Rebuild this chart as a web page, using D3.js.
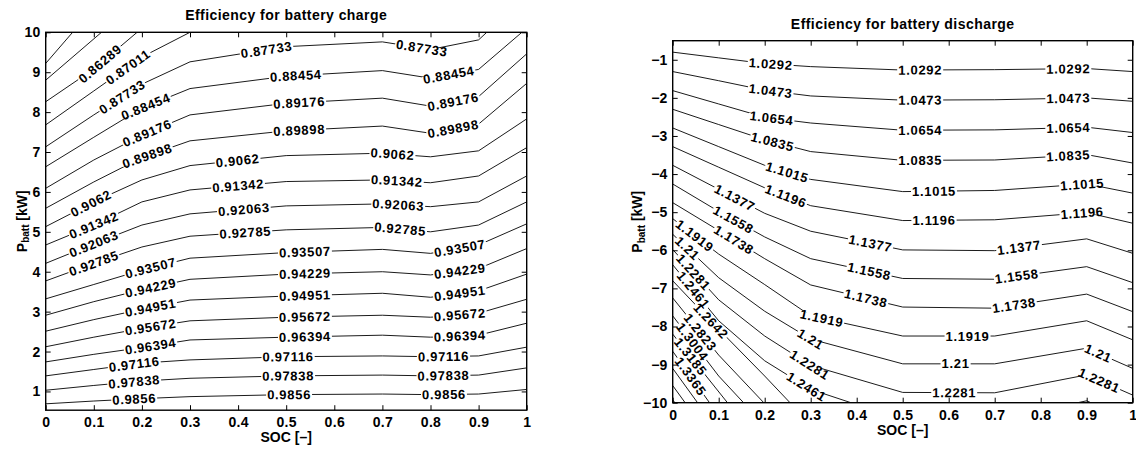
<!DOCTYPE html>
<html><head><meta charset="utf-8">
<script src="https://cdn.jsdelivr.net/npm/d3@7"></script>
<style>
body{margin:0;background:#fff;}
svg{display:block;font-family:"Liberation Sans",Arial,Helvetica,sans-serif;font-weight:bold;}
</style></head><body>
<svg id="chart" width="1136" height="452"></svg>
<script>
// ---------- DATA ----------
const socTicks = [0,0.1,0.2,0.3,0.4,0.5,0.6,0.7,0.8,0.9,1];
const socTickLabels = ["0","0.1","0.2","0.3","0.4","0.5","0.6","0.7","0.8","0.9","1"];
const chargeYTicks = [1,2,3,4,5,6,7,8,9,10];
const chargeYTickLabels = ["1","2","3","4","5","6","7","8","9","10"];
const dischargeYTicks = [-10,-9,-8,-7,-6,-5,-4,-3,-2,-1];
const dischargeYTickLabels = ["\u221210","\u22129","\u22128","\u22127","\u22126","\u22125","\u22124","\u22123","\u22122","\u22121"];

// Charge contours: [SOC, P_batt]
const chargeLabels = ["0.84845","0.85567","0.86289","0.87011","0.87733","0.88454","0.89176","0.89898","0.9062","0.91342","0.92063","0.92785","0.93507","0.94229","0.94951","0.95672","0.96394","0.97116","0.97838","0.9856"];
const chargeLines = [
 [[0,9.22],[0.056,10]],
 [[0,8.80],[0.116,10]],
 [[0,8.26],[0.1,9.08],[0.19,10]],
 [[0,7.68],[0.1,8.53],[0.2,9.38],[0.3,10]],
 [[0,7.13],[0.1,7.93],[0.2,8.70],[0.3,9.26],[0.5,9.64],[0.7,9.76],[0.8,9.57],[0.9,9.81],[0.917,10]],
 [[0,6.63],[0.1,7.37],[0.2,8.10],[0.3,8.59],[0.5,8.90],[0.7,9.04],[0.8,8.85],[0.9,9.07],[0.99,10]],
 [[0,6.09],[0.1,6.80],[0.2,7.42],[0.3,7.93],[0.5,8.22],[0.7,8.35],[0.8,8.15],[0.9,8.39],[1,9.46]],
 [[0,5.59],[0.1,6.25],[0.2,6.86],[0.3,7.28],[0.5,7.53],[0.7,7.65],[0.8,7.47],[0.9,7.70],[1,8.72]],
 [[0,5.13],[0.1,5.75],[0.2,6.30],[0.3,6.66],[0.5,6.91],[0.7,6.97],[0.8,6.88],[0.9,7.03],[1,7.83]],
 [[0,4.67],[0.1,5.17],[0.2,5.75],[0.3,6.05],[0.5,6.26],[0.7,6.30],[0.8,6.23],[0.9,6.40],[1,7.11]],
 [[0,4.21],[0.1,4.70],[0.2,5.17],[0.3,5.45],[0.5,5.65],[0.7,5.70],[0.8,5.63],[0.9,5.75],[1,6.40]],
 [[0,3.77],[0.1,4.21],[0.2,4.62],[0.3,4.89],[0.5,5.05],[0.7,5.11],[0.8,5.00],[0.9,5.17],[1,5.75]],
 [[0,3.32],[0.1,3.68],[0.2,4.04],[0.3,4.34],[0.5,4.48],[0.7,4.56],[0.8,4.46],[0.9,4.67],[1,5.20]],
 [[0,2.91],[0.1,3.25],[0.2,3.55],[0.3,3.81],[0.5,3.94],[0.7,4.00],[0.8,3.92],[0.9,4.08],[1,4.58]],
 [[0,2.51],[0.1,2.80],[0.2,3.06],[0.3,3.29],[0.5,3.39],[0.7,3.46],[0.8,3.36],[0.9,3.52],[1,3.94]],
 [[0,2.12],[0.1,2.36],[0.2,2.58],[0.3,2.77],[0.5,2.86],[0.7,2.91],[0.8,2.86],[0.9,2.96],[1,3.31]],
 [[0,1.74],[0.1,1.93],[0.2,2.10],[0.3,2.29],[0.5,2.36],[0.7,2.41],[0.8,2.36],[0.9,2.41],[1,2.71]],
 [[0,1.39],[0.1,1.55],[0.2,1.71],[0.3,1.79],[0.5,1.87],[0.7,1.89],[0.8,1.87],[0.9,1.89],[1,2.11]],
 [[0,1.03],[0.1,1.15],[0.2,1.26],[0.3,1.33],[0.5,1.39],[0.7,1.41],[0.8,1.39],[0.9,1.41],[1,1.59]],
 [[0,0.69],[0.1,0.76],[0.2,0.82],[0.3,0.87],[0.5,0.92],[0.7,0.935],[0.8,0.92],[0.9,0.935],[1,1.05]]
];
const chargeLabelSoc = [
 [],[],[0.113],[0.171],[0.159,0.459,0.782],[0.208,0.52,0.838],[0.211,0.527,0.847],[0.211,0.527,0.847],
 [0.094,0.399,0.721],[0.1,0.40,0.73],[0.1,0.412,0.733],[0.1,0.415,0.737],
 [0.218,0.539,0.861],[0.218,0.539,0.861],[0.218,0.539,0.861],[0.218,0.539,0.861],[0.218,0.539,0.861],
 [0.184,0.504,0.827],[0.184,0.504,0.827],[0.184,0.506,0.828]
];

// Discharge contours: [SOC, P_batt]
const dischargeLabels = ["1.0292","1.0473","1.0654","1.0835","1.1015","1.1196","1.1377","1.1558","1.1738","1.1919","1.21","1.2281","1.2461","1.2642","1.2823","1.3004","1.3185","1.3365","1.3546","1.3727","1.3908"];
const dischargeLines = [
 [[0,-0.80],[0.1,-0.95],[0.2,-1.10],[0.3,-1.18],[0.5,-1.27],[0.7,-1.26],[0.9,-1.23],[1,-1.31]],
 [[0,-1.31],[0.1,-1.55],[0.2,-1.80],[0.3,-1.95],[0.5,-2.06],[0.7,-2.05],[0.9,-2.00],[1,-2.09]],
 [[0,-1.81],[0.1,-2.16],[0.2,-2.51],[0.3,-2.66],[0.5,-2.85],[0.7,-2.84],[0.9,-2.77],[1,-2.91]],
 [[0,-2.30],[0.1,-2.70],[0.2,-3.10],[0.3,-3.41],[0.5,-3.64],[0.7,-3.63],[0.9,-3.49],[1,-3.71]],
 [[0,-2.79],[0.1,-3.28],[0.2,-3.77],[0.3,-4.14],[0.5,-4.46],[0.7,-4.43],[0.9,-4.26],[1,-4.50]],
 [[0,-3.28],[0.1,-3.82],[0.2,-4.36],[0.3,-4.83],[0.5,-5.22],[0.7,-5.20],[0.9,-5.01],[1,-5.29]],
 [[0,-3.77],[0.1,-4.40],[0.2,-5.03],[0.3,-5.50],[0.5,-5.99],[0.7,-6.01],[0.9,-5.70],[1,-6.08]],
 [[0,-4.26],[0.1,-4.98],[0.2,-5.65],[0.3,-6.22],[0.5,-6.74],[0.7,-6.76],[0.9,-6.43],[1,-6.85]],
 [[0,-4.75],[0.1,-5.48],[0.2,-6.22],[0.3,-6.91],[0.5,-7.49],[0.7,-7.52],[0.9,-7.15],[1,-7.61]],
 [[0,-5.17],[0.1,-6.10],[0.2,-6.90],[0.3,-7.72],[0.5,-8.25],[0.7,-8.25],[0.9,-7.85],[1,-8.35]],
 [[0,-5.58],[0.1,-6.72],[0.2,-7.60],[0.3,-8.33],[0.5,-8.98],[0.7,-8.98],[0.9,-8.57],[1,-9.10]],
 [[0,-5.98],[0.1,-7.30],[0.2,-8.25],[0.3,-9.02],[0.5,-9.73],[0.7,-9.74],[0.9,-9.27],[1,-9.80]],
 [[0,-6.38],[0.1,-7.85],[0.2,-8.90],[0.3,-9.65],[0.5,-10.45],[0.7,-10.46],[0.9,-9.95],[1,-10.5]],
 [[0,-6.80],[0.1,-8.07],[0.2,-9.30],[0.255,-10]],
 [[0,-7.25],[0.1,-8.75],[0.198,-10]],
 [[0,-7.72],[0.1,-9.30],[0.154,-10]],
 [[0,-8.20],[0.119,-10]],
 [[0,-8.65],[0.08,-10]],
 [[0,-9.10],[0.054,-10]],
 [[0,-9.55],[0.027,-10]],
 [[0,-9.93],[0.005,-10]]
];
const dischargeLabelSoc = [
 [0.213,0.538,0.86],[0.213,0.538,0.86],[0.215,0.538,0.86],[0.217,0.538,0.86],
 [0.249,0.568,0.89],[0.246,0.568,0.89],
 [0.135,0.43,0.753],[0.132,0.427,0.748],[0.133,0.42,0.742],
 [0.048,0.324,0.641],[0.032,0.3,0.615,0.925],[0.045,0.298,0.612,0.927],[0.045,0.291],
 [0.083],[0.06],[0.043],[0.039],[0.039],[],[],[]
];

// ---------- DRAW ----------
const svg = d3.select("#chart");

function panel(cfg) {
  const x = d3.scaleLinear().domain([0,1]).range([cfg.left, cfg.right]);
  const y = d3.scaleLinear().domain(cfg.yDomain).range([cfg.bottom, cfg.top]);
  const g = svg.append("g");
  const clipId = cfg.id + "-clip";
  g.append("clipPath").attr("id", clipId).append("rect")
    .attr("x", cfg.left).attr("y", cfg.top)
    .attr("width", cfg.right - cfg.left).attr("height", cfg.bottom - cfg.top);
  const line = d3.line().x(d => x(d[0])).y(d => y(d[1]));
  const lg = g.append("g").attr("clip-path", `url(#${clipId})`);
  lg.selectAll("path.c").data(cfg.lines).join("path").attr("class","c")
    .attr("d", d => line(d)).attr("fill","none").attr("stroke","#000").attr("stroke-width",0.9);

  const labG = g.append("g");
  cfg.lines.forEach((pts, i) => {
    (cfg.labelSoc[i] || []).forEach(s => {
      let k = 0;
      while (k < pts.length - 2 && pts[k+1][0] < s) k++;
      const a = pts[k], b = pts[k+1];
      const t = (s - a[0]) / (b[0] - a[0]);
      const p = a[1] + t * (b[1] - a[1]);
      const ang = Math.atan2(y(b[1]) - y(a[1]), x(b[0]) - x(a[0])) * 180 / Math.PI;
      const lab = labG.append("g").attr("transform", `translate(${x(s)},${y(p)}) rotate(${ang})`);
      const rect = lab.append("rect").attr("fill","#fff");
      const txt = lab.append("text").attr("text-anchor","middle").attr("y",4.6)
        .attr("font-size",13).attr("letter-spacing",0.7).attr("fill","#000").text(cfg.labels[i]);
      const w = txt.node().getComputedTextLength();
      rect.attr("x", -w/2 - 1).attr("y", -2.5).attr("width", w + 2).attr("height", 5);
    });
  });

  // axes (inward ticks)
  const ax = g.append("g");
  const styleAxis = sel => {
    sel.select(".domain").remove();
    sel.selectAll("line").attr("stroke","#000").attr("stroke-width",1);
    sel.selectAll("text").attr("font-size",14).attr("font-weight","bold")
      .attr("font-family",'"Liberation Sans",Arial,sans-serif').attr("fill","#000").attr("letter-spacing",0.3);
    sel.attr("font-family", null).attr("font-size", null);
  };
  ax.append("g").attr("transform",`translate(0,${cfg.bottom})`)
    .call(d3.axisBottom(x).tickValues(socTicks).tickFormat((d,i)=>socTickLabels[i]).tickSizeInner(-5).tickSizeOuter(0).tickPadding(7))
    .call(styleAxis);
  ax.append("g").attr("transform",`translate(0,${cfg.top})`)
    .call(d3.axisTop(x).tickValues(socTicks).tickFormat("").tickSizeInner(-5).tickSizeOuter(0))
    .call(styleAxis);
  ax.append("g").attr("transform",`translate(${cfg.left},0)`)
    .call(d3.axisLeft(y).tickValues(cfg.yTicks).tickFormat((d,i)=>cfg.yTickLabels[i]).tickSizeInner(-5).tickSizeOuter(0).tickPadding(5))
    .call(styleAxis);
  ax.append("g").attr("transform",`translate(${cfg.right},0)`)
    .call(d3.axisRight(y).tickValues(cfg.yTicks).tickFormat("").tickSizeInner(-5).tickSizeOuter(0))
    .call(styleAxis);
  g.append("rect").attr("x",cfg.left).attr("y",cfg.top)
    .attr("width",cfg.right-cfg.left).attr("height",cfg.bottom-cfg.top)
    .attr("fill","none").attr("stroke","#000").attr("stroke-width",1.4);

  const cx = (cfg.left + cfg.right) / 2;
  g.append("text").attr("x",cx).attr("y",cfg.titleY).attr("text-anchor","middle")
    .attr("font-size",14).attr("letter-spacing",0.45).text(cfg.title);
  g.append("text").attr("x",cx).attr("y",cfg.xLabelY).attr("text-anchor","middle")
    .attr("font-size",14).text("SOC [\u2013]");
  const yl = g.append("text").attr("transform",`translate(${cfg.yLabelX},${(cfg.top+cfg.bottom)/2}) rotate(-90)`)
    .attr("text-anchor","middle").attr("font-size",14);
  yl.append("tspan").text("P");
  yl.append("tspan").attr("font-size",10).attr("dy",2.5).text("batt");
  yl.append("tspan").attr("dy",-2.5).text(" [kW]");
}

panel({
  id:"charge", left:45.7, right:526.7, top:32.3, bottom:410.2, yDomain:[0.53,10],
  yTicks:chargeYTicks, yTickLabels:chargeYTickLabels,
  lines:chargeLines, labels:chargeLabels, labelSoc:chargeLabelSoc,
  title:"Efficiency for battery charge", titleY:19.5, xLabelY:442, yLabelX:26.5
});
panel({
  id:"discharge", left:672.7, right:1132.7, top:40.7, bottom:402.7, yDomain:[-10,-0.5],
  yTicks:dischargeYTicks, yTickLabels:dischargeYTickLabels,
  lines:dischargeLines, labels:dischargeLabels, labelSoc:dischargeLabelSoc,
  title:"Efficiency for battery discharge", titleY:29, xLabelY:435, yLabelX:642
});
</script>
</body></html>
